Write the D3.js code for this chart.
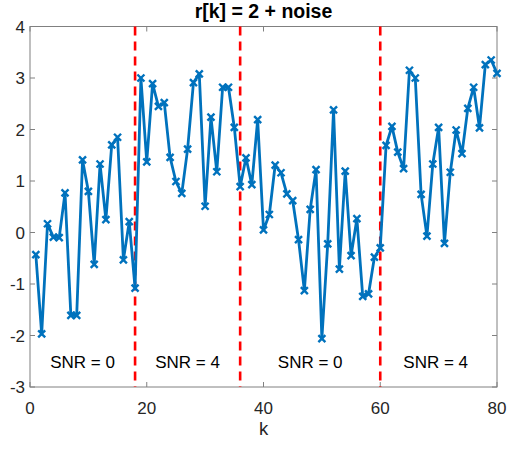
<!DOCTYPE html>
<html>
<head>
<meta charset="utf-8">
<script src="https://cdn.jsdelivr.net/npm/d3@7"></script>
<style>
    body { margin: 0; background: #fff; }
    text { font-family: "Liberation Sans", Arial, sans-serif; fill: #262626; }
</style>
</head>
<body>
<div id="chart"></div>
<script>
// r[k] values, k = 1..80
const rValues = [
    -0.43, -1.97, 0.17, -0.09, -0.10, 0.77, -1.61, -1.61, 1.41, 0.80,
    -0.62, 1.33, 0.25, 1.70, 1.85, -0.53, 0.21, -1.08, 3.00, 1.37,
    2.89, 2.45, 2.52, 1.46, 0.99, 0.76, 1.62, 2.91, 3.08, 0.51,
    2.24, 1.18, 2.82, 2.82, 2.04, 0.89, 1.45, 0.93, 2.19, 0.05,
    0.35, 1.31, 1.16, 0.75, 0.62, -0.14, -1.13, 0.45, 1.22, -2.06,
    -0.22, 2.38, -0.71, 1.19, -0.45, 0.27, -1.24, -1.19, -0.48, -0.30,
    1.69, 2.06, 1.56, 1.24, 3.15, 3.00, 0.74, -0.07, 1.33, 2.04,
    -0.21, 1.17, 1.99, 1.53, 2.41, 2.82, 2.03, 3.26, 3.35, 3.09
];
const kValues = rValues.map((d, i) => i + 1);

const boundaries = [18, 36, 60];
const snrLabels = ["SNR = 0", "SNR = 4", "SNR = 0", "SNR = 4"];
const snrPositions = [9, 27, 48, 69.5];

const xTicks = [0, 20, 40, 60, 80];
const yTicks = [-3, -2, -1, 0, 1, 2, 3, 4];

const W = 507, H = 449;
const m = { left: 30, right: 10, top: 26.5, bottom: 62 };

const svg = d3.select("#chart").append("svg")
    .attr("width", W)
    .attr("height", H);

const x = d3.scaleLinear().domain([0, 80]).range([m.left, W - m.right]);
const y = d3.scaleLinear().domain([-3, 4]).range([H - m.bottom, m.top]);

// axes box with inward ticks
const axisColor = "#808080";
svg.append("rect")
    .attr("x", x(0)).attr("y", y(4))
    .attr("width", x(80) - x(0)).attr("height", y(-3) - y(4))
    .attr("fill", "none").attr("stroke", axisColor).attr("stroke-width", 1);

const tickLen = 5;
const ticks = svg.append("g").attr("stroke", axisColor).attr("stroke-width", 1);
xTicks.forEach(t => {
    ticks.append("line").attr("x1", x(t)).attr("x2", x(t)).attr("y1", y(-3)).attr("y2", y(-3) - tickLen);
    ticks.append("line").attr("x1", x(t)).attr("x2", x(t)).attr("y1", y(4)).attr("y2", y(4) + tickLen);
});
yTicks.forEach(t => {
    ticks.append("line").attr("x1", x(0)).attr("x2", x(0) + tickLen).attr("y1", y(t)).attr("y2", y(t));
    ticks.append("line").attr("x1", x(80)).attr("x2", x(80) - tickLen).attr("y1", y(t)).attr("y2", y(t));
});

svg.append("g").selectAll("text").data(xTicks).join("text")
    .attr("x", d => x(d))
    .attr("y", y(-3) + 27)
    .attr("text-anchor", "middle")
    .style("font-size", "17px")
    .text(d => d);

svg.append("g").selectAll("text").data(yTicks).join("text")
    .attr("x", x(0) - 5)
    .attr("y", d => y(d))
    .attr("dy", "0.36em")
    .attr("text-anchor", "end")
    .style("font-size", "17px")
    .text(d => d);

// dashed boundaries
svg.append("g").selectAll("line").data(boundaries).join("line")
    .attr("x1", d => x(d)).attr("x2", d => x(d))
    .attr("y1", y(4)).attr("y2", y(-3))
    .attr("stroke", "#ff0000")
    .attr("stroke-width", 2.6)
    .attr("stroke-dasharray", "9,6");

// series line
const line = d3.line().x((d, i) => x(kValues[i])).y(d => y(d));
svg.append("path")
    .datum(rValues)
    .attr("d", line)
    .attr("fill", "none")
    .attr("stroke", "#0072bd")
    .attr("stroke-width", 2.8)
    .attr("stroke-linejoin", "round");

// x markers
const s = 3.5;
svg.append("g").selectAll("path").data(rValues).join("path")
    .attr("d", (d, i) => {
        const cx = x(kValues[i]), cy = y(d);
        return `M${cx - s},${cy - s}L${cx + s},${cy + s}M${cx - s},${cy + s}L${cx + s},${cy - s}`;
    })
    .attr("stroke", "#0072bd")
    .attr("stroke-width", 2.4)
    .attr("fill", "none");

// SNR labels
svg.append("g").selectAll("text").data(snrLabels).join("text")
    .attr("x", (d, i) => x(snrPositions[i]))
    .attr("y", y(-3) - 19)
    .attr("text-anchor", "middle")
    .style("font-size", "17px")
    .style("fill", "#000")
    .text(d => d);

// title and label
svg.append("text")
    .attr("x", (x(0) + x(80)) / 2)
    .attr("y", 18)
    .attr("text-anchor", "middle")
    .style("font-size", "19.5px")
    .style("font-weight", "bold")
    .style("fill", "#000")
    .text("r[k] = 2 + noise");

svg.append("text")
    .attr("x", (x(0) + x(80)) / 2)
    .attr("y", 435)
    .attr("text-anchor", "middle")
    .style("font-size", "18.5px")
    .text("k");
</script>
</body>
</html>
